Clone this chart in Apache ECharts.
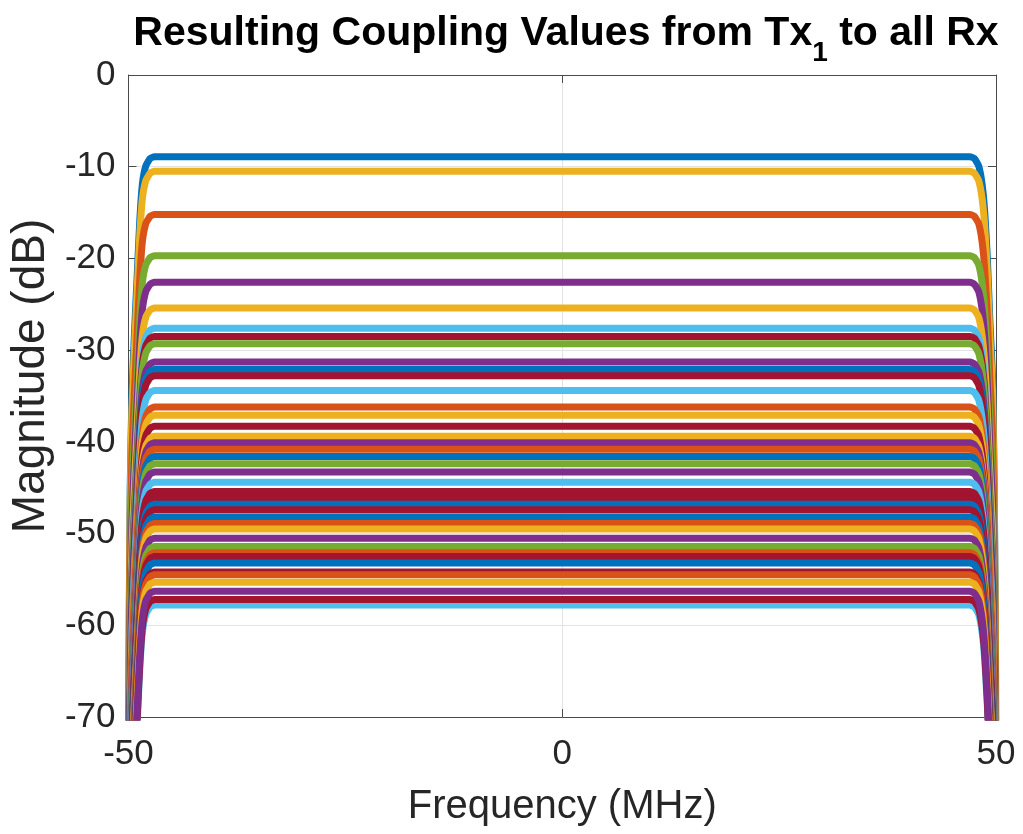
<!DOCTYPE html>
<html>
<head>
<meta charset="utf-8">
<script src="https://cdn.jsdelivr.net/npm/echarts@6/dist/echarts.min.js"></script>
<style>
  html, body { margin: 0; padding: 0; background: #fff; }
  #chart { width: 1023px; height: 834px; }
</style>
</head>
<body>
<div id="chart"></div>
<script>
// Frequency grid (MHz) for every trace, and the band-edge roll-off (dB below the in-band level)
const freqMHz = [-50, -49.95, -49.8, -49.6, -49.3, -49.0, -48.7, -48.4, -48.0, -47.5, -47.0, 0,
                 47.0, 47.5, 48.0, 48.4, 48.7, 49.0, 49.3, 49.6, 49.8, 49.95, 50];
const edgeDropDb = [75, 55, 36, 26, 19, 13, 7, 3, 1.0, 0.2, 0, 0,
                    0, 0.2, 1.0, 3, 6, 11, 18, 24, 36, 55, 75];

// In-band coupling level of each Rx path (dB)
const levelsDb = [
  -8.9, -10.5, -15.2, -19.7, -22.6, -25.4, -27.6, -28.5, -29.3, -31.3,
  -32.1, -32.8, -34.4, -36.2, -37.1, -38.3, -39.4, -40.1, -40.8, -41.6,
  -42.4, -43.3, -44.4, -45.4, -46.1, -46.8, -47.4, -48.2, -48.9, -49.5,
  -50.5, -51.4, -52.1, -52.5, -53.2, -54.2, -54.5, -55.3, -57.8, -57.2,
  -56.3
];
const lineColors = [
  '#0072BD', '#EDB120', '#D95319', '#77AC30', '#7E2F8E', '#EDB120', '#4DBEEE', '#A2142F', '#77AC30', '#7E2F8E',
  '#0072BD', '#A2142F', '#4DBEEE', '#D95319', '#EDB120', '#A2142F', '#EDB120', '#7E2F8E', '#D95319', '#0072BD',
  '#77AC30', '#7E2F8E', '#4DBEEE', '#A2142F', '#A2142F', '#0072BD', '#A2142F', '#0072BD', '#D95319', '#EDB120',
  '#7E2F8E', '#77AC30', '#D95319', '#A2142F', '#0072BD', '#A2142F', '#D95319', '#EDB120', '#4DBEEE', '#A2142F',
  '#7E2F8E'
];

const xTicks = [-50, 0, 50];
const yTicks = [0, -10, -20, -30, -40, -50, -60, -70];

const FONT = '"Liberation Sans", Arial, Helvetica, sans-serif';
const AXIS_COLOR = '#4a4a4a';
const TEXT_COLOR = '#262626';

const series = levelsDb.map((lvl, k) => ({
  type: 'line',
  name: 'Rx' + (k + 1),
  xAxisIndex: 0,
  yAxisIndex: 0,
  showSymbol: false,
  symbol: 'none',
  clip: true,
  silent: true,
  smooth: 0.15,
  lineStyle: { color: lineColors[k], width: 7, cap: 'butt', join: 'round' },
  data: freqMHz.map((f, i) => [f, lvl - edgeDropDb[i]])
}));

const chart = echarts.init(document.getElementById('chart'), null, { renderer: 'canvas' });

const xBase = {
  type: 'value', min: -50, max: 50, interval: 50,
  axisLine: { show: true, onZero: false, lineStyle: { color: AXIS_COLOR, width: 1 } },
  axisTick: { show: true, inside: true, length: 8, lineStyle: { color: AXIS_COLOR } },
  splitLine: { show: false }
};
const yBase = {
  type: 'value', min: -70, max: 0, interval: 10,
  axisLine: { show: true, onZero: false, lineStyle: { color: AXIS_COLOR, width: 1 } },
  axisTick: { show: true, inside: true, length: 8, lineStyle: { color: AXIS_COLOR } },
  splitLine: { show: false }
};

chart.setOption({
  animation: false,
  backgroundColor: '#ffffff',
  title: {
    text: '{m|Resulting Coupling Values from Tx}{sub|1}{m| to all Rx}',
    left: 561, top: 8, textAlign: 'center',
    textStyle: {
      fontFamily: FONT, fontWeight: 'bold', fontSize: 41, color: '#000',
      rich: {
        m: { fontFamily: FONT, fontWeight: 'bold', fontSize: 41, color: '#000',
             lineHeight: 44, verticalAlign: 'top' },
        sub: { fontFamily: FONT, fontWeight: 'bold', fontSize: 28, color: '#000',
               lineHeight: 30, padding: [26, 0, 0, 0], verticalAlign: 'top' }
      }
    }
  },
  grid: { left: 127, right: 27, top: 75, bottom: 117, containLabel: false },
  xAxis: [
    Object.assign({}, xBase, {
      position: 'bottom',
      name: 'Frequency (MHz)', nameLocation: 'middle', nameGap: 70,
      nameTextStyle: { fontFamily: FONT, fontSize: 40, color: TEXT_COLOR },
      axisLabel: { show: true, margin: 20, fontFamily: FONT, fontSize: 35, color: TEXT_COLOR,
                   formatter: v => xTicks.includes(v) ? String(v) : '' },
      splitLine: { show: true, lineStyle: { color: '#e3e3e3', width: 1 } }
    }),
    Object.assign({}, xBase, { position: 'top', axisLabel: { show: false } })
  ],
  yAxis: [
    Object.assign({}, yBase, {
      position: 'left',
      name: 'Magnitude (dB)', nameLocation: 'middle', nameGap: 74, nameRotate: 90,
      nameTextStyle: { fontFamily: FONT, fontSize: 46, color: TEXT_COLOR, padding: [0, 0, 0, 40] },
      axisLabel: { show: true, margin: 13, fontFamily: FONT, fontSize: 35, color: TEXT_COLOR,
                   formatter: v => yTicks.includes(v) ? String(v) : '' },
      splitLine: { show: true, lineStyle: { color: '#e3e3e3', width: 1 } }
    }),
    Object.assign({}, yBase, { position: 'right', axisLabel: { show: false } })
  ],
  series: series
});
</script>
</body>
</html>
